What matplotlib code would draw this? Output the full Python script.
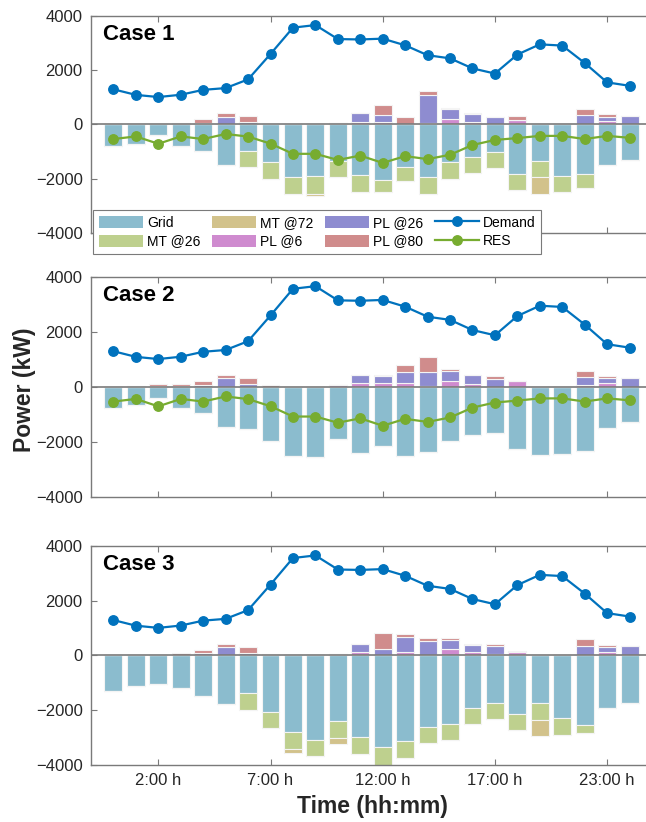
import matplotlib
matplotlib.use("Agg")
import matplotlib.pyplot as plt
from matplotlib.patches import Patch
from matplotlib.lines import Line2D
import numpy as np

plt.rcParams['font.family'] = ['Liberation Sans', 'DejaVu Sans']

# ---------------- data ----------------
hours = np.arange(1, 25)
tick_pos = [3, 8, 13, 18, 23]
tick_labels = ['2:00 h', '7:00 h', '12:00 h', '17:00 h', '23:00 h']

demand = [1290, 1085, 1005, 1090, 1270, 1335, 1655, 2590, 3560, 3655, 3140, 3125,
          3155, 2910, 2545, 2430, 2060, 1870, 2570, 2945, 2900, 2260, 1545, 1420]
res = [-540, -445, -715, -445, -540, -355, -450, -710, -1085, -1085, -1310, -1150,
       -1420, -1170, -1280, -1120, -760, -575, -505, -425, -425, -540, -425, -495]

# Case 1
grid_1 = [-783, -732, -392, -783, -966, -1489, -977, -1390, -1953, -1917, -1343, -1880,
          -2038, -1588, -1953, -1390, -1207, -1025, -1830, -1343, -1917, -1818, -1514, -1317]
mt26_1 = [0, 0, 0, 0, 0, 0, -596, -611, -597, -644, -610, -608,
          -466, -488, -597, -622, -586, -585, -600, -610, -586, -526, 0, 0]
mt72_1 = [0, 0, 0, 0, 0, 0, 0, 0, 0, -73, 0, 0,
          0, 0, 0, 0, 0, 0, 0, -597, 0, 0, 0, 0]
pl6_1 = [0, 0, 0, 30, 0, 0, 0, 0, 0, 0, 40, 85,
         85, 0, 40, 183, 84, 0, 157, 0, 0, 20, 110, 0]
pl26_1 = [0, 20, 0, 0, 60, 278, 84, 0, 0, 0, 0, 340,
          255, 0, 1045, 366, 304, 256, 0, 0, 0, 309, 168, 293]
pl80_1 = [0, 0, 15, 30, 120, 135, 208, 30, 0, 0, 0, 0,
          366, 280, 135, 58, 36, 0, 147, 0, 0, 242, 88, 0]

# Case 2
grid_2 = [-764, -667, -400, -764, -970, -1479, -1552, -1964, -2509, -2570, -1915, -2424,
          -2158, -2521, -2364, -1976, -1758, -1697, -2279, -2497, -2448, -2327, -1503, -1285]
mt26_2 = [0] * 24
mt72_2 = [0] * 24
pl6_2 = [0, 0, 0, 0, 0, 0, 0, 0, 0, 0, 60, 121,
         121, 121, 36, 206, 109, 0, 200, 0, 0, 48, 121, 0]
pl26_2 = [0, 15, 40, 40, 73, 315, 97, 0, 0, 0, 0, 315,
          279, 424, 485, 352, 303, 291, 0, 0, 0, 304, 206, 327]
pl80_2 = [0, 0, 60, 57, 133, 109, 218, 48, 0, 0, 0, 0,
          20, 255, 546, 72, 15, 109, 20, 0, 0, 218, 73, 0]

# Case 3
grid_3 = [-1305, -1134, -1061, -1195, -1488, -1793, -1390, -2061, -2793, -3098, -2402, -3000,
          -3370, -3134, -2634, -2500, -1939, -1756, -2146, -1756, -2280, -2549, -1927, -1756]
mt26_3 = [0, 0, 0, 0, 0, 0, -598, -585, -622, -573, -610, -598,
          -660, -610, -586, -610, -585, -585, -586, -610, -622, -305, 0, 0]
mt72_3 = [0, 0, 0, 0, 0, 0, 0, 0, -170, 0, -220, 0,
          0, 0, 0, 0, 0, 0, 0, -585, 0, 0, 0, 0]
pl6_3 = [0, 0, 0, 0, 0, 0, 0, 0, 0, 0, 61, 110,
         0, 122, 30, 220, 110, 37, 110, 0, 0, 30, 134, 0]
pl26_3 = [0, 15, 0, 30, 73, 317, 98, 0, 0, 0, 0, 317,
          244, 537, 494, 329, 280, 317, 0, 0, 0, 324, 183, 329]
pl80_3 = [0, 0, 15, 55, 122, 98, 219, 37, 0, 0, 0, 0,
          561, 121, 122, 73, 37, 73, 49, 0, 0, 231, 61, 0]

cases = [
    ("Case 1", grid_1, mt26_1, mt72_1, pl6_1, pl26_1, pl80_1, True),
    ("Case 2", grid_2, mt26_2, mt72_2, pl6_2, pl26_2, pl80_2, True),
    ("Case 3", grid_3, mt26_3, mt72_3, pl6_3, pl26_3, pl80_3, False),
]

# ---------------- style ----------------
c_grid = '#8bbcce'
c_mt26 = '#bed08e'
c_mt72 = '#d2c28b'
c_pl26 = '#8e8cd0'
c_pl6 = '#cf8bcf'
c_pl80 = '#d08c8c'
c_demand = '#0072BD'
c_res = '#77AC30'
spine_c = '#7a7a7a'
text_c = '#262626'

W, H = 646, 822
fig = plt.figure(figsize=(W / 100, H / 100), dpi=100)

left_px, width_px = 91, 561
rows_px = [(15.7, 233.0), (276.7, 496.7), (546.0, 764.7)]

bar_kw = dict(width=0.8, edgecolor='#f4f4f4', linewidth=0.8, zorder=2)
axes = []
for (top, bot), (name, grid, mt26, mt72, pl6, pl26, pl80, show_res) in zip(rows_px, cases):
    ax = fig.add_axes([left_px / W, 1 - bot / H, width_px / W, (bot - top) / H])
    axes.append(ax)
    grid = np.array(grid, float)
    mt26 = np.array(mt26, float)
    mt72 = np.array(mt72, float)
    pl6 = np.array(pl6, float)
    pl26 = np.array(pl26, float)
    pl80 = np.array(pl80, float)

    # negative side: grid import, then micro-turbine tiers stacked below
    ax.bar(hours, grid, color=c_grid, **bar_kw)
    ax.bar(hours, mt26, bottom=grid, color=c_mt26, **bar_kw)
    ax.bar(hours, mt72, bottom=grid + mt26, color=c_mt72, **bar_kw)
    # positive side: price-responsive loads stacked upward
    ax.bar(hours, pl6, color=c_pl6, **bar_kw)
    ax.bar(hours, pl26, bottom=pl6, color=c_pl26, **bar_kw)
    ax.bar(hours, pl80, bottom=pl6 + pl26, color=c_pl80, **bar_kw)

    ax.axhline(0, color=spine_c, lw=1.2, zorder=3)

    ax.plot(hours, demand, color=c_demand, lw=1.6, marker='o', ms=6.8, zorder=5)
    if show_res:
        ax.plot(hours, res, color=c_res, lw=1.6, marker='o', ms=6.8, zorder=5)

    ax.set_xlim(0, 25)
    ax.set_ylim(-4000, 4000)
    ax.set_yticks([-4000, -2000, 0, 2000, 4000])
    ax.set_xticks(tick_pos)
    ax.set_xticklabels(tick_labels)
    ax.tick_params(direction='in', length=4, width=0.8, color=spine_c,
                   labelsize=12, labelcolor=text_c, top=True, right=True, pad=6)
    if name != "Case 3":
        ax.tick_params(labelbottom=False)
    for s in ax.spines.values():
        s.set_color(spine_c)
        s.set_linewidth(1.0)

    ax.text(0.021, 0.915, name, transform=ax.transAxes, fontsize=16,
            fontweight='bold', ha='left', va='center', color='black')

# legend
handles = [
    Patch(facecolor=c_grid, edgecolor='none', label='Grid'),
    Patch(facecolor=c_mt26, edgecolor='none', label='MT @26'),
    Patch(facecolor=c_mt72, edgecolor='none', label='MT @72'),
    Patch(facecolor=c_pl6, edgecolor='none', label='PL @6'),
    Patch(facecolor=c_pl26, edgecolor='none', label='PL @26'),
    Patch(facecolor=c_pl80, edgecolor='none', label='PL @80'),
    Line2D([], [], color=c_demand, lw=1.6, marker='o', ms=6.8, label='Demand'),
    Line2D([], [], color=c_res, lw=1.6, marker='o', ms=6.8, label='RES'),
]
leg = axes[0].legend(handles=handles, ncol=4, loc='upper left',
                     bbox_to_anchor=(93 / W, 1 - 210 / H), bbox_transform=fig.transFigure,
                     fontsize=10, frameon=True, fancybox=False, framealpha=1,
                     edgecolor=spine_c, handlelength=3.2, handleheight=0.95,
                     handletextpad=0.3, columnspacing=0.8, labelspacing=0.35,
                     borderpad=0.4, borderaxespad=0)
leg.get_frame().set_linewidth(0.8)
leg.set_zorder(10)

fig.text(25 / W, 1 - 390 / H, 'Power (kW)', rotation=90, fontsize=16.5,
         fontweight='bold', ha='center', va='center', color=text_c)
fig.text(372 / W, 1 - 806 / H, 'Time (hh:mm)', fontsize=16.5,
         fontweight='bold', ha='center', va='center', color=text_c)

fig.savefig('out.png', dpi=100)
